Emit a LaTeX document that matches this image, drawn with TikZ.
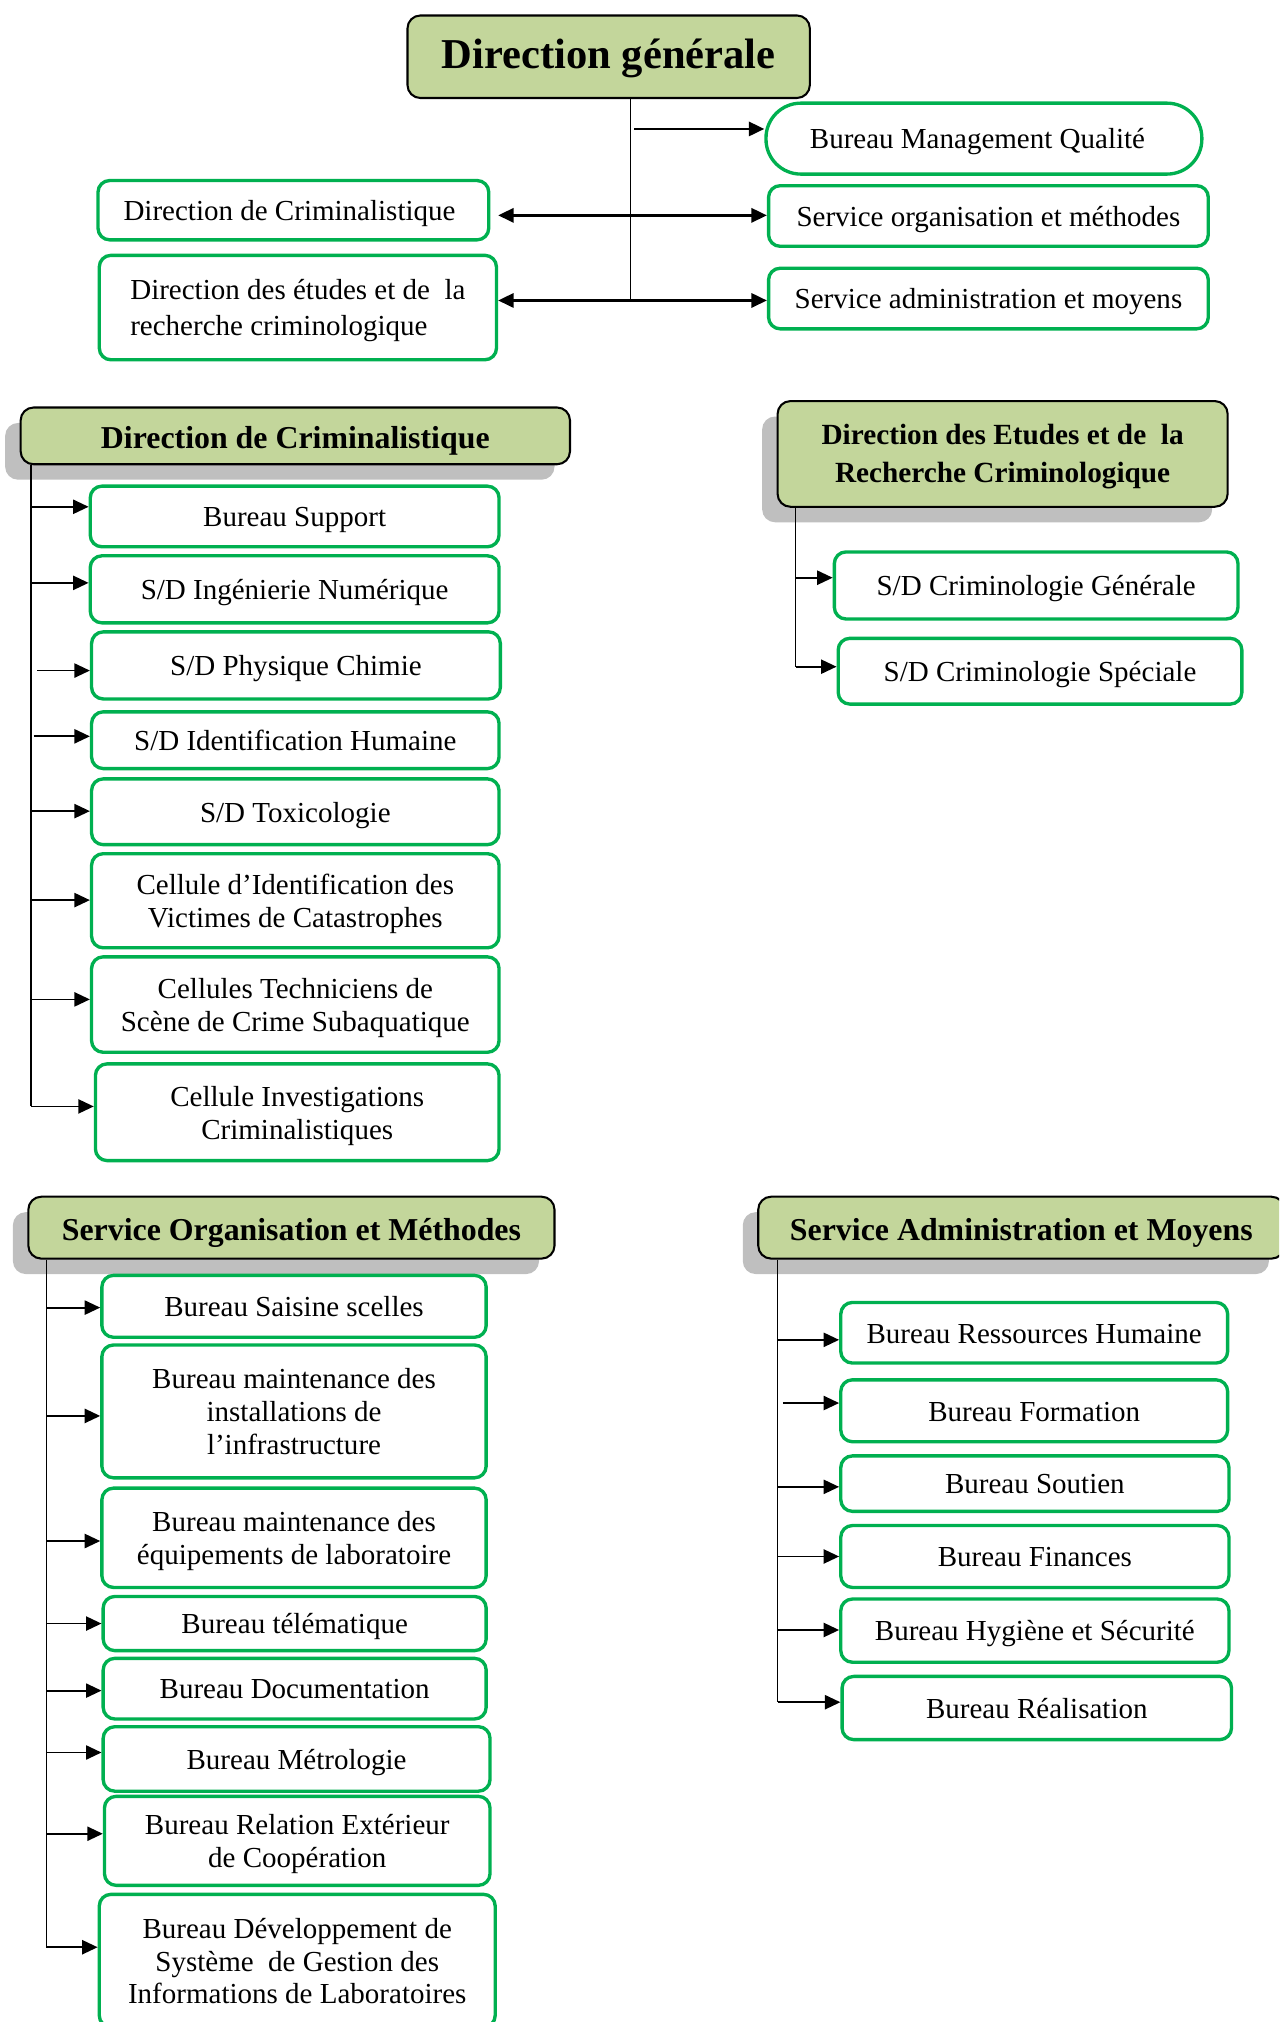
\documentclass[tikz,border=0pt]{standalone}
\usepackage{fontspec}
\setmainfont{Liberation Serif}
\usetikzlibrary{arrows.meta,shadows}
\definecolor{boxgreen}{HTML}{00B050}
\definecolor{headfill}{HTML}{C3D69B}
\definecolor{shadegrey}{HTML}{BFBFBF}

% invisible strut raising the first line of a multi-line label
\newcommand{\firstline}[1]{\rule{0pt}{#1pt}}

% struts{h}{d}: first line at least h above its baseline, last line at least d below
\tikzset{
  struts/.style 2 args={
    execute at begin node={\rule[-#2pt]{0pt}{\dimexpr #1pt+#2pt\relax}},
    execute at end node={\rule[-#2pt]{0pt}{#2pt}}},
  gbox/.style={draw=boxgreen, line width=2.6pt, fill=white, rounded corners=9pt,
    align=center, inner sep=2pt, font=\fontsize{22.5}{25.5}\selectfont, struts={24}{8}},
  hbox/.style={draw=black, line width=1.6pt, fill=headfill, rounded corners=10pt,
    align=center, inner sep=2pt, font=\bfseries\fontsize{24.7}{30}\selectfont, struts={28}{8}},
  shadowed/.style={drop shadow={shadow xshift=-12pt, shadow yshift=-12pt,
    fill=shadegrey, opacity=1}},
  trunk/.style={line width=1.3pt},
  link/.style={line width=1.4pt, -{Triangle[length=12pt,width=11pt]}},
  toplink/.style={line width=2pt, -{Triangle[length=12pt,width=11pt]}},
  toplinkboth/.style={line width=2pt, {Triangle[length=12pt,width=11pt]}-{Triangle[length=12pt,width=11pt]}},
}

\begin{document}
\begin{tikzpicture}[x=1pt, y=-1pt]
\useasboundingbox (0,0) rectangle (992,1568);
\clip (0,0) rectangle (992,1568);

% ---------- top level ----------
\node[hbox, font=\bfseries\fontsize{33}{38}\selectfont, struts={27}{9}, minimum width=312pt, minimum height=64pt] (dg) at (472,44) {Direction générale};
\node[gbox, rounded corners=27pt, minimum width=338pt, minimum height=55pt] (bmq) at (763,107.5) {Bureau Management Qualité\hspace*{10pt}};
\node[gbox, align=left, minimum width=303pt, minimum height=46pt] (dcrim) at (227.5,163) {Direction de Criminalistique\hspace*{6pt}};
\node[gbox, minimum width=341pt, minimum height=47pt] (som) at (766.5,167.5) {Service organisation et méthodes};
\node[gbox, align=left, font=\fontsize{22.5}{28}\selectfont, struts={23}{8}, minimum width=308pt, minimum height=81pt] (der) at (231,238.5) {\firstline{23}Direction des études et de~~la\\recherche criminologique\hspace*{6pt}};
\node[gbox, minimum width=341pt, minimum height=47pt] (sam) at (766.5,231.5) {Service administration et moyens};

\coordinate (dgB) at (489,233);
\draw[trunk] (dg.south -| dgB) -- (dgB);
\draw[toplink] ([xshift=3pt]dgB |- 0,100) -- (bmq.west |- 0,100);
\draw[toplinkboth] ([xshift=6pt]dcrim.east |- 0,167) -- (som.west |- 0,167);
\draw[toplinkboth] (der.east |- 0,233) -- (sam.west |- 0,233);

% ---------- Direction de Criminalistique ----------
\node[hbox, shadowed, minimum width=426pt, minimum height=44pt] (hdc) at (229,338) {Direction de Criminalistique};
\node[gbox, minimum width=317pt, minimum height=47pt] (b1) at (228.5,400.5) {Bureau Support};
\node[gbox, minimum width=317pt, minimum height=52pt] (b2) at (228.5,457) {S/D Ingénierie Numérique};
\node[gbox, minimum width=317pt, minimum height=52pt] (b3) at (229.5,516) {S/D Physique Chimie};
\node[gbox, minimum width=316pt, minimum height=44pt] (b4) at (229,574) {S/D Identification Humaine};
\node[gbox, minimum width=316pt, minimum height=51pt] (b5) at (229,629.5) {S/D Toxicologie};
\node[gbox, minimum width=316pt, minimum height=73pt] (b6) at (229,698.5) {\firstline{24}Cellule d’Identification des\\Victimes de Catastrophes};
\node[gbox, minimum width=316pt, minimum height=74pt] (b7) at (229,779) {\firstline{24}Cellules Techniciens de\\Scène de Crime Subaquatique};
\node[gbox, minimum width=313pt, minimum height=75pt] (b8) at (230.5,862.5) {\firstline{24}Cellule Investigations\\Criminalistiques};

\coordinate (dcB) at (24,858);
\draw[trunk] (hdc.south -| dcB) -- (dcB);
\draw[link] (dcB |- 0,393) -- (b1.west |- 0,393);
\draw[link] (dcB |- 0,452) -- (b2.west |- 0,452);
\draw[link] ([xshift=5pt]dcB |- 0,520) -- (b3.west |- 0,520);
\draw[link] ([xshift=2pt]dcB |- 0,571) -- (b4.west |- 0,571);
\draw[link] (dcB |- 0,629) -- (b5.west |- 0,629);
\draw[link] (dcB |- 0,698) -- (b6.west |- 0,698);
\draw[link] (dcB |- 0,775) -- (b7.west |- 0,775);
\draw[link] (dcB) -- (b8.west |- dcB);

% ---------- Direction des Etudes et de la Recherche Criminologique ----------
\node[hbox, shadowed, font=\bfseries\fontsize{22.7}{30}\selectfont, struts={24}{9}, minimum width=349pt, minimum height=82pt] (hder) at (777.5,352) {\firstline{24}Direction des Etudes et de~~la\\Recherche Criminologique};
\node[gbox, minimum width=313pt, minimum height=52pt] (c1) at (803.5,454) {S/D Criminologie Générale};
\node[gbox, minimum width=313pt, minimum height=51pt] (c2) at (806.5,520.5) {S/D Criminologie Spéciale};

\coordinate (derB) at (617,517);
\draw[trunk] (hder.south -| derB) -- (derB);
\draw[link] (derB |- 0,448) -- (c1.west |- 0,448);
\draw[link] (derB) -- (c2.west |- derB);

% ---------- Service Organisation et Méthodes ----------
\node[hbox, shadowed, minimum width=408pt, minimum height=48pt] (hsom) at (226,952) {Service Organisation et Méthodes};
\node[gbox, minimum width=298pt, minimum height=48pt] (s1) at (228,1013) {Bureau Saisine scelles};
\node[gbox, minimum width=298pt, minimum height=103pt] (s2) at (228,1094.5) {\firstline{24}Bureau maintenance des\\installations de\\l’infrastructure};
\node[gbox, minimum width=298pt, minimum height=77pt] (s3) at (228,1192.5) {\firstline{24}Bureau maintenance des\\équipements de laboratoire};
\node[gbox, minimum width=297pt, minimum height=42pt] (s4) at (228.5,1259) {Bureau télématique};
\node[gbox, minimum width=297pt, minimum height=47pt] (s5) at (228.5,1309.5) {Bureau Documentation};
\node[gbox, minimum width=300pt, minimum height=50pt] (s6) at (230,1364) {Bureau Métrologie};
\node[gbox, minimum width=299pt, minimum height=69pt] (s7) at (230.5,1427.5) {\firstline{24}Bureau Relation Extérieur\\de Coopération};
\node[gbox, minimum width=307pt, minimum height=103pt] (s8) at (230.5,1520.5) {\firstline{24}Bureau Développement de\\Système~~de Gestion des\\Informations de Laboratoires};

\coordinate (somB) at (36,1510);
\draw[trunk] (hsom.south -| somB) -- (somB);
\draw[link] (somB |- 0,1014) -- (s1.west |- 0,1014);
\draw[link] (somB |- 0,1098) -- (s2.west |- 0,1098);
\draw[link] (somB |- 0,1195) -- (s3.west |- 0,1195);
\draw[link] (somB |- 0,1259) -- (s4.west |- 0,1259);
\draw[link] (somB |- 0,1311) -- (s5.west |- 0,1311);
\draw[link] (somB |- 0,1359) -- (s6.west |- 0,1359);
\draw[link] (somB |- 0,1422) -- (s7.west |- 0,1422);
\draw[link] (somB) -- (s8.west |- somB);

% ---------- Service Administration et Moyens ----------
\node[hbox, shadowed, minimum width=408pt, minimum height=48pt] (hsam) at (792,952) {Service Administration et Moyens};
\node[gbox, minimum width=300pt, minimum height=47pt] (a1) at (802,1033.5) {Bureau Ressources Humaine};
\node[gbox, minimum width=300pt, minimum height=48pt] (a2) at (802,1094) {Bureau Formation};
\node[gbox, minimum width=301pt, minimum height=43pt] (a3) at (802.5,1150.5) {Bureau Soutien};
\node[gbox, minimum width=301pt, minimum height=48pt] (a4) at (802.5,1207) {Bureau Finances};
\node[gbox, minimum width=301pt, minimum height=49pt] (a5) at (802.5,1264.5) {Bureau Hygiène et Sécurité};
\node[gbox, minimum width=302pt, minimum height=49pt] (a6) at (804,1324.5) {Bureau Réalisation};

\coordinate (samB) at (603,1320);
\draw[trunk] (hsam.south -| samB) -- (samB);
\draw[link] (samB |- 0,1039) -- (a1.west |- 0,1039);
\draw[link] ([xshift=4pt]samB |- 0,1088) -- (a2.west |- 0,1088);
\draw[link] (samB |- 0,1153) -- (a3.west |- 0,1153);
\draw[link] (samB |- 0,1207) -- (a4.west |- 0,1207);
\draw[link] (samB |- 0,1264) -- (a5.west |- 0,1264);
\draw[link] (samB) -- (a6.west |- samB);
\end{tikzpicture}
\end{document}
